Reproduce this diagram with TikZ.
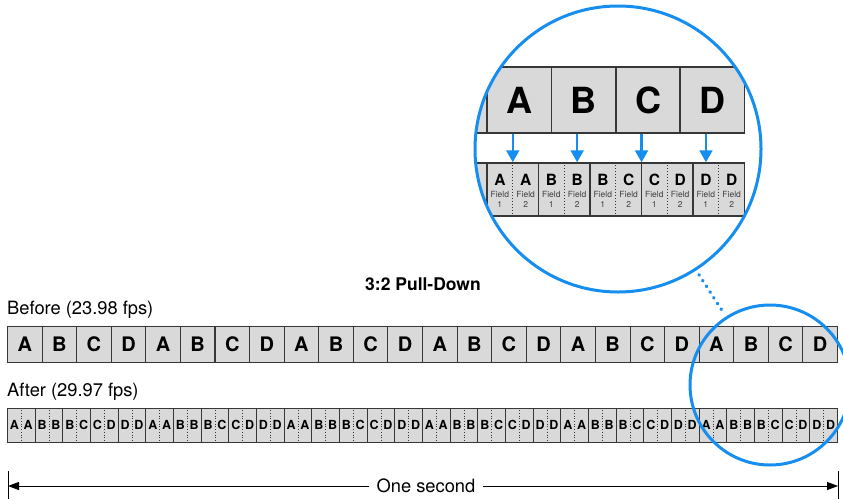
\documentclass[tikz,border=0pt]{standalone}
\usepackage{fontspec}
\setmainfont{TeX Gyre Heros}
\usetikzlibrary{arrows.meta}
\definecolor{zoomblue}{RGB}{22,142,240}
\definecolor{cellgray}{RGB}{217,217,217}
\definecolor{celledge}{RGB}{55,55,55}
\tikzset{
  frame/.style={draw=celledge,fill=cellgray,line width=1pt,inner sep=0pt,
    minimum width=34.58pt,minimum height=36pt,
    font=\fontsize{20}{20}\selectfont\bfseries},
  field/.style={draw=celledge,fill=cellgray,line width=1pt,inner sep=0pt,
    minimum width=27.67pt,minimum height=34pt},
  fieldletter/.style={inner sep=0pt,font=\fontsize{12.5}{12.5}\selectfont\bfseries},
  fieldsplit/.style={celledge,dotted,line width=0.7pt},
  zoomframe/.style={draw=celledge,fill=cellgray,line width=1.5pt,inner sep=0pt,
    minimum width=64.4pt,minimum height=66pt,
    font=\fontsize{36}{36}\selectfont\bfseries},
  zoomfield/.style={draw=celledge,fill=cellgray,line width=1.5pt,inner sep=0pt,
    minimum width=51.5pt,minimum height=53pt},
  zoomletter/.style={inner sep=0pt,font=\fontsize{15.5}{15.5}\selectfont\bfseries},
  zoomnote/.style={inner sep=0pt,text=black!75,font=\fontsize{8.5}{8.5}\selectfont},
  zoomarrow/.style={zoomblue,line width=2.2pt,-{Triangle[length=12pt,width=13pt]}},
  ring/.style={circle,draw=zoomblue,line width=3pt,inner sep=0pt},
  ringdots/.style={zoomblue,line width=3.4pt,line cap=round,
    dash pattern=on 0.6pt off 6.2pt,shorten <=5pt,shorten >=5pt},
  caption/.style={inner sep=0pt,font=\fontsize{18.3}{18.3}\selectfont},
  spanarrow/.style={black,line width=0.9pt,-{Triangle[length=11pt,width=8pt]}}
}
\begin{document}
\begin{tikzpicture}[x=1pt,y=-1pt]
  \useasboundingbox (0,0) rectangle (843,499);
  % strip before the pull-down
  \node[caption,anchor=base west] (beforelbl) at (7,314) {Before (23.98 fps)};
  \foreach \r in {0,...,5}
    \foreach \l [count=\k from 0] in {A,B,C,D} {
      \pgfmathsetmacro\idx{int(4*\r+\k)}
      \node[frame] (before\idx) at ({7.5+34.583*(\idx+0.5)},344) {\l};
    }
  % strip after the pull-down, two fields per frame
  \node[caption,anchor=base west] (afterlbl) at (7,396) {After (29.97 fps)};
  \foreach \r in {0,...,5}
    \foreach \p/\q [count=\k from 0] in {A/A,B/B,B/C,C/D,D/D} {
      \pgfmathsetmacro\idx{int(5*\r+\k)}
      \node[field] (after\idx) at ({7.5+27.667*(\idx+0.5)},425) {};
      \draw[fieldsplit] (after\idx.north) -- (after\idx.south);
      \node[fieldletter] (afterA\idx) at ([xshift=-6.9pt]after\idx.center) {\p};
      \node[fieldletter] (afterB\idx) at ([xshift=6.9pt]after\idx.center) {\q};
    }
  \node[caption,anchor=base,font=\fontsize{17.5}{17.5}\selectfont\bfseries]
    (pulldown) at (423,290) {3:2 Pull-Down};
  % magnified view
  \begin{scope}
    \clip (618,149) circle (143);
    \node[zoomframe] (zoomprev) at (454.8,100) {};
    \foreach \l [count=\k] in {A,B,C,D}
      \node[zoomframe] (zoom\l) at ({487+64.4*(\k-0.5)},100) {\l};
    \node[zoomfield] (zfprev) at (461.25,189.5) {};
    \draw[fieldsplit,line width=1pt] (zfprev.north) -- (zfprev.south);
    \foreach \p/\q [count=\k] in {A/A,B/B,B/C,C/D,D/D} {
      \node[zoomfield] (zf\k) at ({487+51.5*(\k-0.5)},189.5) {};
      \draw[fieldsplit,line width=1pt] (zf\k.north) -- (zf\k.south);
      \node[zoomletter] (zfa\k) at ([xshift=-12.9pt]zf\k.center |- 0,180.3) {\p};
      \node[zoomnote] (zfaf\k) at ([xshift=-12.9pt]zf\k.center |- 0,194.5) {Field};
      \node[zoomnote] (zfan\k) at ([xshift=-12.9pt]zf\k.center |- 0,204.5) {1};
      \node[zoomletter] (zfb\k) at ([xshift=12.9pt]zf\k.center |- 0,180.3) {\q};
      \node[zoomnote] (zfbf\k) at ([xshift=12.9pt]zf\k.center |- 0,194.5) {Field};
      \node[zoomnote] (zfbn\k) at ([xshift=12.9pt]zf\k.center |- 0,204.5) {2};
    }
  \end{scope}
  \foreach \l in {A,B,C,D}
    \draw[zoomarrow] ([xshift=-6.45pt]zoom\l.south)
      -- ([xshift=-6.45pt]zoom\l.south |- zf1.north);
  \node[ring,minimum size=286pt] (bigring) at (618,149) {};
  \node[ring,minimum size=160pt] (smallring) at (770,385) {};
  \draw[ringdots] (bigring) -- (smallring);
  % one second span
  \coordinate (spanL) at (8,486);
  \coordinate (spanR) at (838,486);
  \draw[line width=0.8pt] ([yshift=15pt]spanL) -- ([yshift=-13pt]spanL);
  \draw[line width=0.8pt] ([yshift=15pt]spanR) -- ([yshift=-13pt]spanR);
  \node[caption,inner sep=7pt,fill=white] (span) at (426,486) {One second};
  \draw[spanarrow] (span) -- (spanL);
  \draw[spanarrow] (span) -- (spanR);
\end{tikzpicture}
\end{document}
